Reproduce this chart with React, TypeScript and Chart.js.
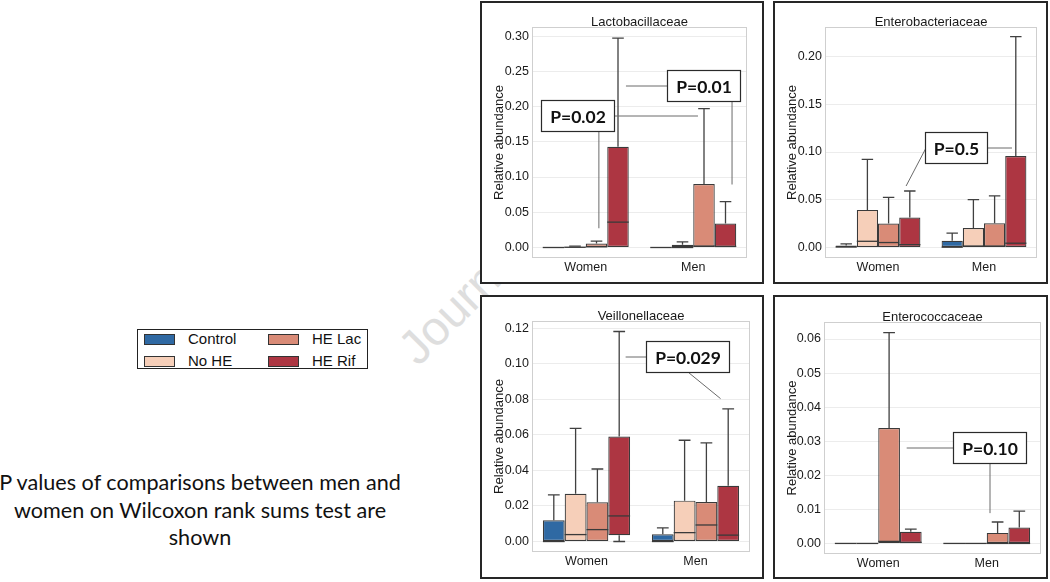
import React, { useEffect, useRef } from "react";
import { Chart, registerables } from "chart.js";
Chart.register(...registerables);

const groups = ["Women", "Men"];
const seriesNames = ["Control", "No HE", "HE Lac", "HE Rif"];
const seriesColors = ["#2f69a3", "#f6cfb9", "#d98b77", "#ad3642"];

// Each row = one series (Control, No HE, HE Lac, HE Rif), values = [Women, Men]
// Lactobacillaceae
const lactoLow = [[0, 0], [0, 0], [0, 0], [0, 0]];
const lactoQ1 = [[0, 0], [0, 0], [0, 0], [0, 0]];
const lactoMed = [[0, 0], [0.0003, 0], [0.001, 0.002], [0.036, 0.0015]];
const lactoQ3 = [[0, 0], [0.0012, 0.004], [0.0055, 0.09], [0.143, 0.034]];
const lactoHigh = [[0, 0], [0.002, 0.008], [0.009, 0.197], [0.297, 0.065]];
const lactoTicks = [0, 0.05, 0.1, 0.15, 0.2, 0.25, 0.3];

// Enterobacteriaceae
const enteroLow = [[0, 0], [0, 0], [0, 0], [0, 0]];
const enteroQ1 = [[0, 0], [0, 0], [0, 0], [0, 0]];
const enteroMed = [[0.0005, 0.0003], [0.0065, 0.0015], [0.0052, 0.0015], [0.003, 0.0045]];
const enteroQ3 = [[0.002, 0.0071], [0.0394, 0.0205], [0.0251, 0.0254], [0.0314, 0.0958]];
const enteroHigh = [[0.0038, 0.015], [0.0923, 0.0502], [0.0526, 0.054], [0.0592, 0.221]];
const enteroTicks = [0, 0.05, 0.1, 0.15, 0.2];

// Veillonellaceae
const veilLow = [[0, 0], [0, 0], [0, 0], [0, 0]];
const veilQ1 = [[0, 0], [0, 0], [0, 0], [0.0035, 0]];
const veilMed = [[0, 0], [0.0039, 0.005], [0.0067, 0.0093], [0.0144, 0.0036]];
const veilQ3 = [[0.012, 0.0041], [0.0269, 0.023], [0.0221, 0.0222], [0.0591, 0.0314]];
const veilHigh = [[0.0262, 0.0077], [0.0637, 0.057], [0.0408, 0.0555], [0.1182, 0.0746]];
const veilTicks = [0, 0.02, 0.04, 0.06, 0.08, 0.1, 0.12];

// Enterococcaceae
const coccLow = [[0, 0], [0, 0], [0, 0], [0, 0]];
const coccQ1 = [[0, 0], [0, 0], [0, 0], [0, 0]];
const coccMed = [[0, 0], [0, 0], [0.0006, 0], [0.0003, 0]];
const coccQ3 = [[0, 0], [0, 0], [0.0339, 0.0031], [0.0034, 0.0047]];
const coccHigh = [[0, 0], [0, 0], [0.0619, 0.0063], [0.0042, 0.0095]];
const coccTicks = [0, 0.01, 0.02, 0.03, 0.04, 0.05, 0.06];

// P-value call-outs (anchored in data space: category index, value)
const lactoNotes = [
  { label: "P=0.02", x: -0.081, y: 0.1877, lines: [{ ax: 1, ay: 0.5, tx: 1.044, ty: null }, { ax: 0.786, ay: 1, tx: null, ty: 0.0273 }] },
  { label: "P=0.01", x: 1.091, y: 0.23, lines: [{ ax: 0, ay: 0.5, tx: 0.374, ty: null }, { ax: 0.884, ay: 1, tx: null, ty: 0.0894 }] },
];
const enteroNotes = [
  { label: "P=0.5", x: 0.732, y: 0.1043, lines: [{ ax: 1, ay: 0.5, tx: 1.264, ty: null }, { ax: 0, ay: 0.53, tx: 0.265, ty: 0.0644 }] },
];
const veilNotes = [
  { label: "P=0.029", x: 0.925, y: 0.1041, lines: [{ ax: 0, ay: 0.5, tx: 0.359, ty: null }, { ax: 0.506, ay: 1, tx: 1.23, ty: 0.0804 }] },
];
const coccNotes = [
  { label: "P=0.10", x: 1.025, y: 0.0281, lines: [{ ax: 0, ay: 0.5, tx: 0.262, ty: null }, { ax: 0.5, ay: 1, tx: null, ty: 0.0089 }] },
];

const FONT = "'Liberation Sans', Arial, sans-serif";
const TEXT = "#1a1a1a";

type Panel = {
  title: string;
  low: number[][]; q1: number[][]; med: number[][]; q3: number[][]; high: number[][];
  ticks: number[]; yMin: number; yMax: number; notes: any[];
  left: number; top: number; w: number; h: number;
  yW: number; padR: number; padT: number; xH: number;
};

const panels: Panel[] = [
  { title: "Lactobacillaceae", low: lactoLow, q1: lactoQ1, med: lactoMed, q3: lactoQ3, high: lactoHigh, ticks: lactoTicks, yMin: -0.0149, yMax: 0.3129, notes: lactoNotes, left: 480, top: 1, w: 284, h: 283, yW: 50, padR: 15, padT: 24, xH: 24 },
  { title: "Enterobacteriaceae", low: enteroLow, q1: enteroQ1, med: enteroMed, q3: enteroQ3, high: enteroHigh, ticks: enteroTicks, yMin: -0.011, yMax: 0.231, notes: enteroNotes, left: 773, top: 1, w: 275, h: 283, yW: 50, padR: 9, padT: 24, xH: 24 },
  { title: "Veillonellaceae", low: veilLow, q1: veilQ1, med: veilMed, q3: veilQ3, high: veilHigh, ticks: veilTicks, yMin: -0.0059, yMax: 0.1241, notes: veilNotes, left: 480, top: 295, w: 284, h: 284, yW: 50, padR: 12, padT: 24, xH: 25 },
  { title: "Enterococcaceae", low: coccLow, q1: coccQ1, med: coccMed, q3: coccQ3, high: coccHigh, ticks: coccTicks, yMin: -0.0031, yMax: 0.065, notes: coccNotes, left: 773, top: 295, w: 275, h: 284, yW: 49, padR: 5, padT: 25, xH: 23 },
];

function makePlugin(p: Panel) {
  return {
    id: "boxExtras",
    afterDraw(chart: any) {
      const ctx = chart.ctx;
      const xs = chart.scales.x;
      const ys = chart.scales.y;
      const ca = chart.chartArea;
      ctx.save();
      // whiskers + medians
      chart.data.datasets.forEach((_: any, i: number) => {
        const meta = chart.getDatasetMeta(i);
        meta.data.forEach((bar: any, j: number) => {
          const { x, width } = bar.getProps(["x", "width"], true);
          const l = x - width / 2;
          const r = x + width / 2;
          const cap = width * 0.27;
          ctx.strokeStyle = "#404040";
          ctx.lineWidth = 1.3;
          const hi = p.high[i][j], q3 = p.q3[i][j], q1 = p.q1[i][j], lo = p.low[i][j];
          if (hi > q3) {
            const yh = ys.getPixelForValue(hi), yq = ys.getPixelForValue(q3);
            ctx.beginPath();
            ctx.moveTo(x, yq); ctx.lineTo(x, yh);
            ctx.moveTo(x - cap, yh); ctx.lineTo(x + cap, yh);
            ctx.stroke();
          }
          if (lo < q1) {
            const yl = ys.getPixelForValue(lo), yq = ys.getPixelForValue(q1);
            ctx.beginPath();
            ctx.moveTo(x, yq); ctx.lineTo(x, yl);
            ctx.moveTo(x - cap, yl); ctx.lineTo(x + cap, yl);
            ctx.stroke();
          }
          const ym = ys.getPixelForValue(p.med[i][j]);
          ctx.strokeStyle = "#3a3a3a";
          ctx.lineWidth = 1.3;
          ctx.beginPath();
          ctx.moveTo(l, ym); ctx.lineTo(r, ym);
          ctx.stroke();
        });
      });
      // panel border
      ctx.strokeStyle = "#cfcfcf";
      ctx.lineWidth = 1;
      ctx.strokeRect(ca.left + 0.5, ca.top + 0.5, ca.right - ca.left - 1, ca.bottom - ca.top - 1);
      // title
      ctx.fillStyle = TEXT;
      ctx.font = `13px ${FONT}`;
      ctx.textAlign = "center";
      ctx.textBaseline = "alphabetic";
      ctx.fillText(p.title, (ca.left + ca.right) / 2, ca.top - 1);
      // y axis title
      ctx.save();
      ctx.translate(17.5, (ca.top + ca.bottom) / 2);
      ctx.rotate(-Math.PI / 2);
      ctx.textBaseline = "middle";
      ctx.font = `13px ${FONT}`;
      ctx.fillText("Relative abundance", 0, 0);
      ctx.restore();
      // P-value call-outs
      p.notes.forEach((n: any) => {
        ctx.font = `bold 17.5px Lato, 'Open Sans', sans-serif`;
        const tw = ctx.measureText(n.label).width;
        const bw = Math.round(tw + 17);
        const bh = 31;
        const cx = xs.getPixelForValue(n.x);
        const cy = ys.getPixelForValue(n.y);
        const bl = Math.round(cx - bw / 2) + 0.5;
        const bt = Math.round(cy - bh / 2) + 0.5;
        ctx.strokeStyle = "#6a6a6a";
        ctx.lineWidth = 1;
        n.lines.forEach((ln: any) => {
          const sx = bl + ln.ax * bw;
          const sy = bt + ln.ay * bh;
          const ex = ln.tx === null ? sx : xs.getPixelForValue(ln.tx);
          const ey = ln.ty === null ? sy : ys.getPixelForValue(ln.ty);
          ctx.beginPath();
          ctx.moveTo(sx, sy); ctx.lineTo(ex, ey);
          ctx.stroke();
        });
        ctx.fillStyle = "#ffffff";
        ctx.fillRect(bl, bt, bw, bh);
        ctx.strokeStyle = "#2a2a2a";
        ctx.lineWidth = 1.2;
        ctx.strokeRect(bl, bt, bw, bh);
        ctx.fillStyle = "#111";
        ctx.textAlign = "center";
        ctx.textBaseline = "middle";
        ctx.fillText(n.label, bl + bw / 2, bt + bh / 2 + 1);
      });
      ctx.restore();
    },
  };
}

function PanelChart({ p }: { p: Panel }) {
  const ref = useRef<HTMLCanvasElement>(null);
  useEffect(() => {
    if (!ref.current) return;
    const datasets = seriesNames.map((name, i) => ({
      label: name,
      data: groups.map((_, j) => [p.q1[i][j], p.q3[i][j]]),
      backgroundColor: seriesColors[i],
      borderColor: "#3a3a3a",
      borderWidth: 1.2,
      borderSkipped: false,
      categoryPercentage: 0.8,
      barPercentage: 1.0,
    }));
    const chart = new Chart(ref.current, {
      type: "bar",
      data: { labels: groups, datasets: datasets as any },
      options: {
        animation: false,
        responsive: false,
        devicePixelRatio: 1,
        layout: { padding: { left: 0, right: p.padR, top: p.padT, bottom: 0 } },
        plugins: { legend: { display: false }, tooltip: { enabled: false }, title: { display: false } },
        scales: {
          x: {
            offset: true,
            grid: { display: false, drawTicks: false },
            border: { display: false },
            ticks: { color: TEXT, font: { family: FONT, size: 12.5 }, padding: 2, maxRotation: 0 },
            afterFit: (s: any) => { s.height = p.xH; },
          },
          y: {
            min: p.yMin,
            max: p.yMax,
            grid: { color: "#ececec", lineWidth: 1, drawTicks: false },
            border: { display: false },
            ticks: {
              color: TEXT,
              font: { family: FONT, size: 12.5 },
              padding: 3,
              callback: (v: any) => Number(v).toFixed(2),
            },
            afterBuildTicks: (s: any) => { s.ticks = p.ticks.map((v) => ({ value: v })); },
            afterFit: (s: any) => { s.width = p.yW; },
          },
        },
      } as any,
      plugins: [makePlugin(p)],
    });
    return () => chart.destroy();
  }, [p]);
  return (
    <div
      style={{
        position: "absolute",
        left: p.left,
        top: p.top,
        width: p.w,
        height: p.h,
        border: "2px solid #262626",
        boxSizing: "border-box",
        background: "#fff",
        zIndex: 2,
      }}
    >
      <canvas ref={ref} width={p.w - 4} height={p.h - 4} style={{ display: "block" }} />
    </div>
  );
}

function Legend() {
  const items = [
    { i: 0, x: 144, y: 334 },
    { i: 1, x: 144, y: 356 },
    { i: 2, x: 268, y: 334 },
    { i: 3, x: 268, y: 356 },
  ];
  return (
    <div style={{ position: "absolute", left: 137, top: 329, width: 231, height: 40, border: "1px solid #222", boxSizing: "border-box", background: "#fff" }}>
      {items.map((it) => (
        <React.Fragment key={it.i}>
          <div
            style={{
              position: "absolute",
              left: it.x - 138,
              top: it.y - 330,
              width: 31,
              height: 11,
              background: seriesColors[it.i],
              border: "1px solid #333",
              boxSizing: "border-box",
            }}
          />
          <div
            style={{
              position: "absolute",
              left: it.x - 138 + 44,
              top: it.y - 330 - 4,
              fontFamily: FONT,
              fontSize: 15,
              lineHeight: "18px",
              color: "#111",
              whiteSpace: "nowrap",
            }}
          >
            {seriesNames[it.i]}
          </div>
        </React.Fragment>
      ))}
    </div>
  );
}

export default function App() {
  return (
    <div style={{ position: "absolute", left: 0, top: 0, width: 1050, height: 582, background: "#fff", overflow: "hidden" }}>
      <div
        style={{
          position: "absolute",
          left: 424,
          top: 325,
          fontFamily: FONT,
          fontSize: 48,
          lineHeight: "48px",
          color: "#dedede",
          whiteSpace: "nowrap",
          transformOrigin: "0 100%",
          transform: "rotate(-45deg)",
          zIndex: 1,
        }}
      >
        Journal Pre-proof
      </div>
      {panels.map((p) => (
        <PanelChart key={p.title} p={p} />
      ))}
      <Legend />
      <div
        style={{
          position: "absolute",
          left: -5,
          top: 469,
          width: 410,
          textAlign: "center",
          fontFamily: "Lato, 'Open Sans', sans-serif",
          fontSize: 21.6,
          lineHeight: "27.5px",
          color: "#111",
          whiteSpace: "nowrap",
        }}
      >
        P values of comparisons between men and
        <br />
        women on Wilcoxon rank sums test are
        <br />
        shown
      </div>
    </div>
  );
}
